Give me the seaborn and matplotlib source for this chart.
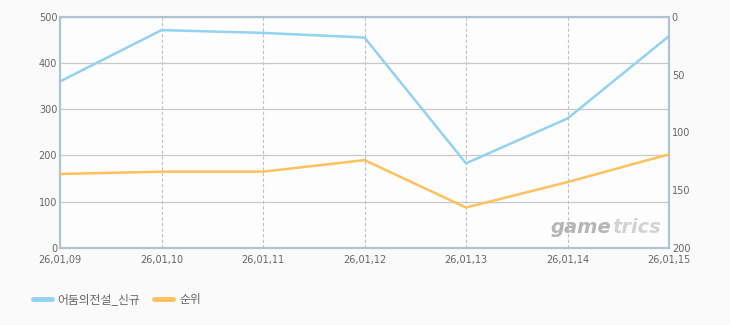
import matplotlib
matplotlib.use("Agg")
import matplotlib.pyplot as plt
import seaborn as sns
import pandas as pd
from matplotlib.lines import Line2D

dates = ["26,01,09", "26,01,10", "26,01,11", "26,01,12", "26,01,13", "26,01,14", "26,01,15"]
users = [360, 471, 465, 455, 183, 280, 458]
rank = [136, 134, 134, 124, 165, 143, 119]
series_names = ["어둠의전설_신규", "순위"]
left_ticks = [0, 100, 200, 300, 400, 500]
right_ticks = [0, 50, 100, 150, 200]

sns.set_style("white")
plt.rcParams['font.family'] = ['Noto Sans CJK KR', 'DejaVu Sans']

df = pd.DataFrame({"x": range(len(dates)), "users": users, "rank": rank})

fig = plt.figure(figsize=(7.3, 3.25), dpi=100)
fig.patch.set_facecolor("#fafafa")
ax = fig.add_axes([60/730, 1-248/325, (669-60)/730, (248-16.7)/325])
ax.set_facecolor("#fdfdfd")
ax2 = ax.twinx()

blue = "#92d2f2"
orange = "#ffc15e"

sns.lineplot(data=df, x="x", y="users", ax=ax, color=blue, linewidth=1.8, zorder=3)
sns.lineplot(data=df, x="x", y="rank", ax=ax2, color=orange, linewidth=1.8, zorder=3)

ax.set_xlim(0, len(dates)-1)
ax.set_ylim(0, 500)
ax2.set_ylim(200, 0)
ax.set_xticks(range(len(dates)))
ax.set_xticklabels(dates)
ax.set_yticks(left_ticks)
ax2.set_yticks(right_ticks)
ax.set_xlabel("")
ax.set_ylabel("")
ax2.set_ylabel("")

for a in (ax, ax2):
    a.tick_params(axis="both", length=0, labelsize=7, labelcolor="#666666", pad=2)
    for s in a.spines.values():
        s.set_color("#b0c2d6")
        s.set_linewidth(1.5)
ax.tick_params(axis="x", pad=5)

ax.yaxis.grid(True, color="#c8c8c8", linewidth=0.9, linestyle="-")
ax.xaxis.grid(True, color="#c0c0c0", linewidth=0.8, linestyle=(0, (3, 2)))
ax.set_axisbelow(True)
for lbl in ax.get_xticklabels():
    lbl.set_family(['DejaVu Sans'])
for lbl in ax.get_yticklabels() + ax2.get_yticklabels():
    lbl.set_family(['DejaVu Sans'])

# watermark
ax.text(0.906, 0.088, "game", transform=ax.transAxes, ha="right", va="center",
        fontsize=14, fontstyle="italic", fontweight="bold", color="#b5b5b5",
        family=['DejaVu Sans'], zorder=1)
ax.text(0.906, 0.088, "trics", transform=ax.transAxes, ha="left", va="center",
        fontsize=14, fontstyle="italic", fontweight="bold", color="#d3d3d3",
        family=['DejaVu Sans'], zorder=1)

handles = [Line2D([], [], color=blue, linewidth=3.5),
           Line2D([], [], color=orange, linewidth=3.5)]
fig.legend(handles, series_names, loc="center left", bbox_to_anchor=(22/730, 1-300/325),
           ncol=2, frameon=False, fontsize=8.5, labelcolor="#666666",
           handlelength=1.6, handletextpad=0.5, columnspacing=1.2)

fig.savefig("out.png", dpi=100, facecolor=fig.get_facecolor())
